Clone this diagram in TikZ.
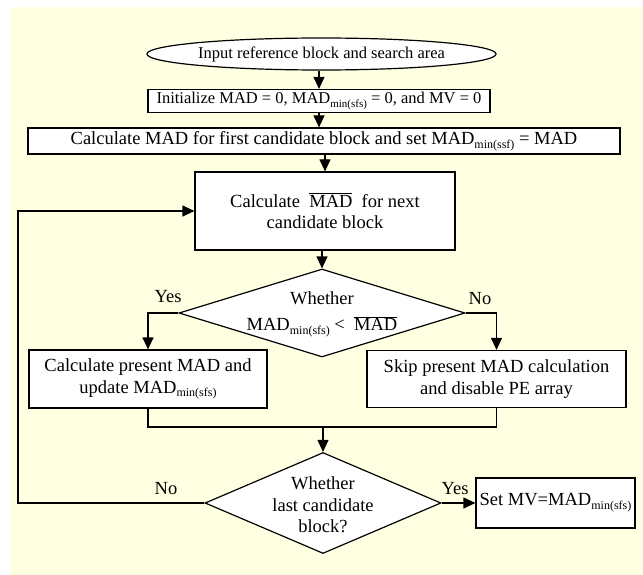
\documentclass[tikz,border=0pt]{standalone}
\usepackage{fontspec}
\setmainfont{Liberation Serif}
\usetikzlibrary{shapes.geometric,arrows.meta}
\definecolor{paper}{RGB}{255,255,225}
\newcommand{\lowsub}[1]{\raisebox{-0.2em}{\fontsize{12}{12}\selectfont #1}}
\newcommand{\smallsub}[1]{\raisebox{-0.2em}{\fontsize{11}{11}\selectfont #1}}
\newcommand{\barmad}{$\overline{\mbox{MAD}}$}
\begin{document}
\begin{tikzpicture}[x=1pt,y=-1pt,
  every node/.style={font=\fontsize{18.5}{21.5}\selectfont, inner sep=0pt},
  smallfont/.style={font=\fontsize{16.5}{19}\selectfont},
  stepbox/.style={draw, line width=1.2pt, fill=white, align=center},
  decide/.style={draw, line width=1.2pt, fill=white, diamond},
  flow/.style={line width=1.2pt},
  arr/.style={flow, -{Triangle[length=12pt,width=11pt]}}]
\useasboundingbox (0,0) rectangle (643,575);
\fill[paper] (10,7) rectangle (643,575);

% process steps
\node[draw, line width=1.2pt, fill=white, ellipse, smallfont, minimum width=343, minimum height=32] (start) at (321.5,54) {Input reference block and search area};
\node[stepbox, smallfont, minimum width=342, minimum height=23] (init) at (319,101) {Initialize MAD = 0, MAD\smallsub{min(sfs)} = 0, and MV = 0};
\node[stepbox, minimum width=592, minimum height=26] (first) at (324,141) {Calculate MAD for first candidate block and set MAD\lowsub{min(ssf)} = MAD};
\node[stepbox, minimum width=260, minimum height=78] (next) at (325,211) {Calculate \ \barmad\ \ for next\\candidate block};

% first decision
\node[decide, minimum width=286, minimum height=88] (d1) at (322,313) {};
\node (d1a) at (322,298) {Whether};
\node (d1b) at (322,327) {MAD\lowsub{min(sfs)} < \ \barmad};

\node[stepbox, minimum width=238, minimum height=58] (calc) at (148,379) {Calculate present MAD and\\update MAD\lowsub{min(sfs)}};
\node[stepbox, minimum width=259, minimum height=57] (skip) at (496.5,379) {Skip present MAD calculation\\and disable PE array};

% second decision
\node[decide, minimum width=236, minimum height=101] (d2) at (323,503) {};
\node[align=center] (d2t) at (323,505) {Whether\\last candidate\\block?};
\node[stepbox, minimum width=159, minimum height=50] (setmv) at (555.5,503) {Set MV=MAD\lowsub{min(sfs)}};

% branch labels
\node (yes1) at (168,297) {Yes};
\node (no1) at (480,299) {No};
\node (no2) at (166,489) {No};
\node (yes2) at (455,489) {Yes};

\coordinate (mrg) at (323,427);
\coordinate (lp) at (18,0);

% connectors
\draw[arr] (start.south -| init.north) -- (init.north);
\draw[arr] (init.south) -- (init.south |- first.north);
\draw[arr] (first.south -| next.north) -- (next);
\draw[arr] (next.south -| d1.north) -- (d1.north);
\draw[arr] (d1.west) -| (calc.north);
\draw[arr] (d1.east) -| (skip.north);
\draw[flow] (calc.south) |- (mrg) -| (skip.south);
\draw[arr] (mrg) -- (d2.north);
\draw[arr] (d2.east) -- (setmv.west);
\draw[arr] (d2.west) -- (d2.west -| lp) -- (next.west -| lp) -- (next.west);
\end{tikzpicture}
\end{document}
